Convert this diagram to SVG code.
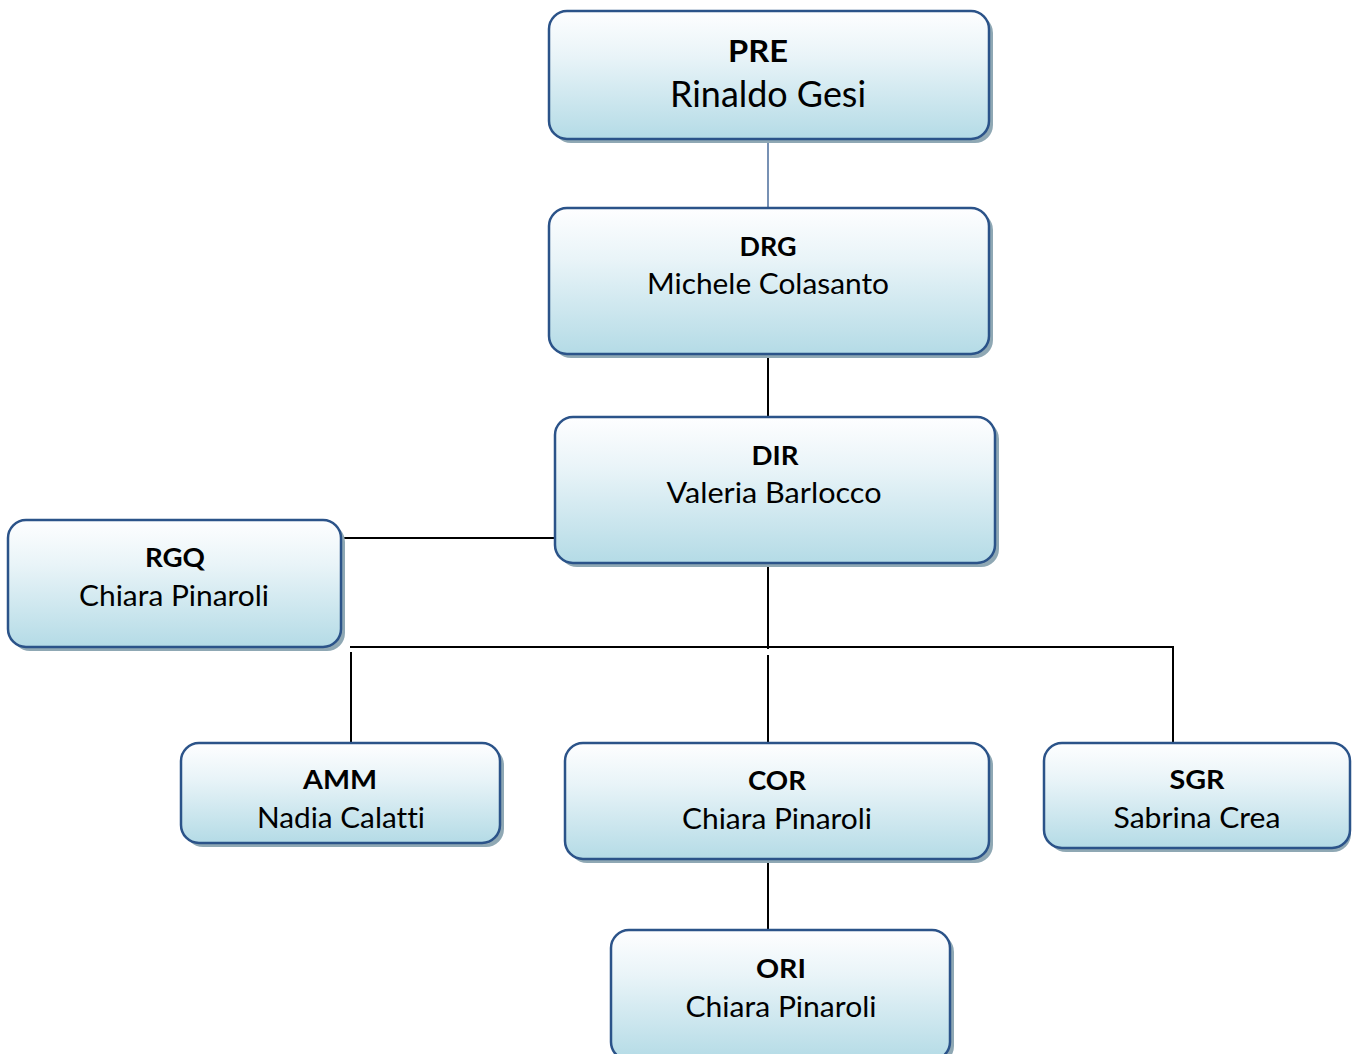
<svg xmlns="http://www.w3.org/2000/svg" width="1353" height="1054" viewBox="0 0 1353 1054">
<defs>
<linearGradient id="g" x1="0" y1="0" x2="0" y2="1">
<stop offset="0" stop-color="#fefeff"/>
<stop offset="0.35" stop-color="#e9f4f8"/>
<stop offset="1" stop-color="#b4dbe6"/>
</linearGradient>
<style>
.box{fill:url(#g);stroke:#2b5389;stroke-width:2.5}
.sh{fill:#8fa8b4}
.t{font-family:Lato,"Open Sans","Liberation Sans",sans-serif;fill:#000;text-anchor:middle;font-variant-ligatures:none;font-feature-settings:"liga" 0}
.b{font-weight:bold;font-size:27px}
.n{font-size:28px}
.c{stroke:#000;stroke-width:2;fill:none}
</style>
</defs>
<rect width="1353" height="1054" fill="#fff"/>
<g id="connectors">
<line x1="768" y1="139" x2="768" y2="208" stroke="#4a6c9b" stroke-width="1.5"/>
<line class="c" x1="768" y1="354" x2="768" y2="417"/>
<line class="c" x1="341" y1="538" x2="555" y2="538"/>
<line class="c" x1="768" y1="564" x2="768" y2="649"/>
<line class="c" x1="350" y1="647" x2="1174" y2="647"/>
<line class="c" x1="351" y1="652" x2="351" y2="743"/>
<line class="c" x1="768" y1="655" x2="768" y2="743"/>
<line class="c" x1="1173" y1="647" x2="1173" y2="743"/>
<line class="c" x1="768" y1="859" x2="768" y2="930"/>
</g>
<g id="PRE">
<rect class="sh" x="553" y="15" width="440" height="128" rx="18"/>
<rect class="box" x="549" y="11" width="440" height="128" rx="18"/>
<text class="t" x="758" y="62" font-weight="bold" font-size="31" textLength="60" lengthAdjust="spacingAndGlyphs">PRE</text>
<text class="t" x="768" y="107" font-size="37" textLength="196" lengthAdjust="spacingAndGlyphs">Rinaldo Gesi</text>
</g>
<g id="DRG">
<rect class="sh" x="553" y="212" width="440" height="146" rx="18"/>
<rect class="box" x="549" y="208" width="440" height="146" rx="18"/>
<text class="t b" x="768" y="256" textLength="57" lengthAdjust="spacingAndGlyphs">DRG</text>
<text class="t n" x="768" y="294" textLength="242" lengthAdjust="spacingAndGlyphs">Michele Colasanto</text>
</g>
<g id="DIR">
<rect class="sh" x="559" y="421" width="440" height="146" rx="18"/>
<rect class="box" x="555" y="417" width="440" height="146" rx="18"/>
<text class="t b" x="775" y="465" textLength="47" lengthAdjust="spacingAndGlyphs">DIR</text>
<text class="t n" x="774" y="503" textLength="215" lengthAdjust="spacingAndGlyphs">Valeria Barlocco</text>
</g>
<g id="RGQ">
<rect class="sh" x="12" y="524" width="333" height="127" rx="18"/>
<rect class="box" x="8" y="520" width="333" height="127" rx="18"/>
<text class="t b" x="175" y="567" textLength="60" lengthAdjust="spacingAndGlyphs">RGQ</text>
<text class="t n" x="174" y="606" textLength="190" lengthAdjust="spacingAndGlyphs">Chiara Pinaroli</text>
</g>
<g id="AMM">
<rect class="sh" x="185" y="747" width="319" height="100" rx="18"/>
<rect class="box" x="181" y="743" width="319" height="100" rx="18"/>
<text class="t b" x="340" y="789" textLength="74" lengthAdjust="spacingAndGlyphs">AMM</text>
<text class="t n" x="341" y="828" textLength="168" lengthAdjust="spacingAndGlyphs">Nadia Calatti</text>
</g>
<g id="COR">
<rect class="sh" x="569" y="747" width="424" height="116" rx="18"/>
<rect class="box" x="565" y="743" width="424" height="116" rx="18"/>
<text class="t b" x="777" y="790" textLength="58" lengthAdjust="spacingAndGlyphs">COR</text>
<text class="t n" x="777" y="829" textLength="190" lengthAdjust="spacingAndGlyphs">Chiara Pinaroli</text>
</g>
<g id="SGR">
<rect class="sh" x="1048" y="747" width="303" height="105" rx="18"/>
<rect class="box" x="1044" y="743" width="306" height="105" rx="18"/>
<text class="t b" x="1197" y="789" textLength="55" lengthAdjust="spacingAndGlyphs">SGR</text>
<text class="t n" x="1197" y="828" textLength="167" lengthAdjust="spacingAndGlyphs">Sabrina Crea</text>
</g>
<g id="ORI">
<rect class="sh" x="615" y="934" width="339" height="130" rx="18"/>
<rect class="box" x="611" y="930" width="339" height="130" rx="18"/>
<text class="t b" x="781" y="978" textLength="50" lengthAdjust="spacingAndGlyphs">ORI</text>
<text class="t n" x="781" y="1017" textLength="191" lengthAdjust="spacingAndGlyphs">Chiara Pinaroli</text>
</g>
</svg>
